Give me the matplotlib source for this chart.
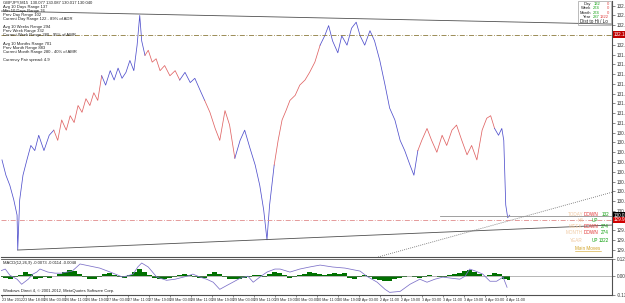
import matplotlib
matplotlib.use("Agg")
import matplotlib.pyplot as plt
import numpy as np

plt.rcParams["font.family"] = ["Liberation Sans", "DejaVu Sans"]

# ---- price data (M15 bar index, close) ----
bars = [0, 6, 12, 18, 23, 24, 27, 32, 38, 44, 50, 56, 64, 72, 79, 85, 91, 98, 104, 110,
        116, 122, 128, 134, 140, 146, 152, 158, 165, 171, 177, 183, 189, 195, 201, 206, 210, 213, 218, 223,
        229, 235, 241, 248, 256, 264, 271, 279, 287, 294, 302, 309, 317, 325, 332, 340, 347, 355, 363, 370,
        378, 386, 393, 399, 404, 408, 415, 421, 427, 433, 439, 447, 454, 462, 469, 477, 485, 492, 498, 504,
        512, 518, 526, 533, 540, 546, 553, 561, 568, 576, 584, 591, 599, 607, 614, 622, 628, 634, 640, 648,
        655, 663, 671, 678, 686, 693, 701, 709, 716, 724, 732, 739, 745, 751, 757, 762, 765, 768, 771, 774]
price = [130.66, 130.48, 130.36, 130.19, 130.01, 129.60, 130.19, 130.48, 130.66, 130.83,
         130.77, 130.95, 130.77, 130.95, 131.01, 130.89, 131.13, 131.01, 131.18, 131.10,
         131.30, 131.22, 131.38, 131.30, 131.45, 131.36, 131.65, 131.54, 131.71, 131.60,
         131.74, 131.62, 131.69, 131.83, 131.71, 132.01, 132.36, 132.06, 131.89, 131.95,
         131.81, 131.85, 131.71, 131.77, 131.65, 131.71, 131.60, 131.69, 131.57, 131.62,
         131.48, 131.36, 131.22, 131.03, 130.89, 131.24, 131.07, 130.68, 130.89, 131.01,
         130.80, 130.60, 130.36, 130.07, 129.72, 130.13, 130.60, 130.89, 131.13, 131.24,
         131.36, 131.42, 131.54, 131.60, 131.69, 131.81, 132.01, 132.12, 132.24, 132.06,
         131.92, 132.12, 132.01, 132.21, 132.28, 132.12, 132.01, 132.18, 132.06, 131.83,
         131.54, 131.27, 131.13, 130.89, 130.77, 130.60, 130.48, 130.77, 130.89, 131.03,
         130.89, 130.75, 130.95, 130.83, 131.01, 131.07, 130.89, 130.72, 130.83, 130.66,
         131.01, 131.15, 131.18, 131.03, 130.95, 131.03, 130.89, 130.13, 129.98, 130.01]
red_spans = [(79, 146), (218, 264), (309, 347), (415, 477), (634, 745)]

# trend / level lines (bar, price)
top_line = [(-3, 132.411), (930, 132.258)]
low_line = [(24, 129.60), (930, 129.894)]
dotted_line = [(668, 129.72), (930, 130.28)]
olive_level = 132.135
pink_level = 129.95
gray_level = (668, 130.00)
bid, ask_mark = 130.01, 129.955

price_ticks = [132.475 - 0.115 * k for k in range(26)]
time_labels = ["23 Mar 2012", "23 Mar 18:00", "26 Mar 03:00", "26 Mar 11:00", "26 Mar 19:00",
               "27 Mar 03:00", "27 Mar 11:00", "27 Mar 19:00", "28 Mar 03:00", "28 Mar 11:00",
               "28 Mar 19:00", "29 Mar 03:00", "29 Mar 11:00", "29 Mar 19:00", "30 Mar 03:00",
               "30 Mar 11:00", "30 Mar 19:00", "2 Apr 03:00", "2 Apr 11:00", "2 Apr 19:00",
               "3 Apr 03:00", "3 Apr 11:00", "3 Apr 19:00", "4 Apr 03:00", "4 Apr 11:00"]

# ---- MACD panel ----
hist = [-0.007, -0.015, -0.022, -0.007, 0.007, 0.030, 0.015, -0.022, -0.015, -0.007,
        -0.015, 0.0, 0.015, 0.030, 0.044, 0.037, 0.015, -0.007, -0.022, -0.022,
        -0.007, 0.015, 0.022, 0.007, -0.007, -0.015, 0.007, 0.030, 0.052, 0.030,
        0.007, -0.015, -0.022, -0.022, -0.015, -0.007, 0.007, 0.015, 0.007, -0.007,
        -0.015, -0.015, 0.015, 0.030, 0.015, -0.007, -0.022, -0.022, -0.022, -0.015,
        -0.007, 0.007, 0.007, -0.007, 0.015, 0.030, 0.022, 0.007, -0.015, -0.007,
        0.007, 0.015, 0.030, 0.022, 0.015, 0.007, 0.015, 0.022, 0.015, 0.022,
        -0.015, -0.022, -0.007, 0.007, -0.007, -0.022, -0.030, -0.037, -0.037, -0.022,
        -0.015, -0.007, 0.0, -0.007, -0.015, -0.007, 0.007, 0.0, -0.007, -0.007,
        0.007, 0.015, 0.022, 0.037, 0.044, 0.030, 0.015, 0.0, 0.007, 0.022,
        0.015, -0.022, -0.030]
HIST_STEP = 7.62
sig_bars = [-3, 5, 12, 23, 30, 40, 47, 53, 58, 70, 81, 91, 99, 107, 114, 119, 134, 149, 165, 177,
            184, 200, 207, 213, 223, 236, 251, 264, 282, 291, 302, 312, 322, 332, 343, 352, 363, 375, 383, 393,
            404, 416, 424, 439, 454, 469, 485, 504, 523, 546, 556, 572, 584, 591, 607, 622, 637, 648, 660, 672,
            686, 698, 706, 713, 722, 733, 744, 754, 764, 770]
sig_vals = [0.037, 0.052, 0.007, -0.022, -0.059, -0.022, 0.015, 0.030, 0.052, 0.030,
            0.022, 0.022, 0.030, 0.037, 0.067, 0.089, 0.074, 0.059, 0.030, 0.007,
            -0.007, 0.015, 0.067, 0.096, 0.067, -0.007, -0.030, -0.022, 0.0, 0.015,
            -0.007, -0.022, -0.044, -0.096, -0.067, -0.044, -0.015, 0.0, -0.044, -0.007,
            0.030, 0.052, 0.052, 0.030, 0.052, 0.067, 0.081, 0.067, 0.059, 0.037,
            0.0, -0.044, -0.096, -0.118, -0.111, -0.059, -0.022, -0.044, -0.022, -0.007,
            -0.015, -0.022, 0.0, 0.052, 0.037, 0.015, -0.037, -0.037, -0.007, -0.081]

W, H = 625, 303
FS = 3.3
BLUE, RED = "#5050cc", "#e06464"
fig = plt.figure(figsize=(W / 100, H / 100), dpi=100)
fig.patch.set_facecolor("white")


def fx(x):
    return x / W


def fy(y):
    return 1 - y / H


ax = fig.add_axes([fx(1), fy(257), fx(611), 257 / H - 0.002])
ax.set_xlim(-1.5, 930)
ax.set_ylim(129.518, 132.534)

# split the close line into blue / red runs without overlapping
is_red = [any(s <= b <= e for s, e in red_spans) for b in bars]
start = 0
for i in range(1, len(bars) + 1):
    if i == len(bars) or is_red[i] != is_red[start]:
        end = min(i, len(bars) - 1)
        ax.plot(bars[start:end + 1], price[start:end + 1],
                color=RED if is_red[start] else BLUE, lw=0.55)
        start = i

ax.plot(*zip(*top_line), color="#505050", lw=0.6)
ax.plot(*zip(*low_line), color="#505050", lw=0.6)
ax.axline(dotted_line[0], dotted_line[1], color="#606060", lw=0.6, ls=(0, (1, 1.5)))
ax.axhline(olive_level, color="#8c7a3c", lw=0.6, ls=(0, (6, 2, 1, 2)))
ax.axhline(pink_level, color="#e08a8a", lw=0.6, ls=(0, (6, 2, 1, 2)))
ax.plot([gray_level[0], 930], [gray_level[1]] * 2, color="#909090", lw=0.6)

ax.yaxis.tick_right()
ax.set_yticks(price_ticks)
ax.set_yticklabels([f"{v:.3f}" for v in price_ticks], fontsize=FS, color="#303030")
ax.tick_params(axis="y", length=2, width=0.4, pad=1.2, colors="#303030")
ax.set_xticks([])
for side in ["top", "left"]:
    ax.spines[side].set_visible(False)
for side in ["right", "bottom"]:
    ax.spines[side].set_color("#505050")
    ax.spines[side].set_linewidth(0.8)

# price markers on the axis
for val, fc in [(olive_level, "#c00000"), (bid, "#000000"), (ask_mark, "#d00000")]:
    ax.text(1.003, val, f"{val:.3f}", transform=ax.get_yaxis_transform(), fontsize=FS,
            color="white", va="center", ha="left", clip_on=False,
            bbox=dict(boxstyle="square,pad=0.12", fc=fc, ec="none"))

# top-left info block
info = ["GBPJPY,M15  130.077 130.087 130.017 130.040",
        "Avg 10 Days Range 137",
        "Min 10 Days Range 76",
        "Prev Day Range 102",
        "Current Day Range 122 - 89% of ADR",
        "",
        "Avg 10 Weeks Range 294",
        "Prev Week Range 332",
        "Current Week Range 280 - 95% of AWR",
        "",
        "Avg 10 Months Range 701",
        "Prev Month Range 883",
        "Current Month Range 280 - 40% of AMR",
        "",
        "Currency Pair spread: 4.9"]
for i, line in enumerate(info):
    fig.text(fx(3), fy(2.5 + 4.1 * i), line, fontsize=3.0, color="#202020", va="center")

# top-right distance box
box_rows = [("Day", "132", "0"), ("Week", "274", "0"), ("Month", "274", "0"), ("Year", "287", "1322")]
for i, (lab, g, r) in enumerate(box_rows):
    y = 4 + 4.3 * i
    fig.text(fx(591), fy(y), lab, fontsize=3.0, color="#202020", ha="right", va="center")
    fig.text(fx(600), fy(y), g, fontsize=3.0, color="#10a010", ha="right", va="center")
    fig.text(fx(609), fy(y), r, fontsize=3.0, color="#e04040", ha="right", va="center")
fig.text(fx(608), fy(21.5), "Dist to Hi / Lo", fontsize=3.3, color="#202020", ha="right", va="center")
fig.add_artist(plt.Rectangle((fx(578), fy(24.5)), fx(33), 24 / H, transform=fig.transFigure,
                             fill=False, ec="#a0a0a0", lw=0.5))

# bottom-right main moves
moves = [("TODAY", "DOWN", "132", 214), ("H4", "UP", "", 221), ("WEEK", "DOWN", "274", 227),
         ("MONTH", "DOWN", "274", 233), ("YEAR", "UP", "1322", 240)]
for lab, d, n, y in moves:
    fig.text(fx(583), fy(y), lab, fontsize=FS, color="#f0c8a0", ha="right", va="center")
    fig.text(fx(598), fy(y), d, fontsize=FS, color="#e03030" if d == "DOWN" else "#10a010",
             ha="right", va="center")
    fig.text(fx(609), fy(y), n, fontsize=FS, color="#10a010", ha="right", va="center")
fig.text(fx(588), fy(248), "Main Moves", fontsize=FS, color="#d0a020", ha="center", va="center")
fig.add_artist(plt.Line2D([fx(575), fx(601)], [fy(250.5)] * 2, color="#d0a020", lw=0.4))

# ---- indicator panel ----
ax2 = fig.add_axes([fx(1), fy(295), fx(611), 36 / H])
ax2.set_xlim(-1.5, 930)
ax2.set_ylim(-0.1372, 0.1253)
hb = np.arange(len(hist)) * HIST_STEP - 3
ax2.fill_between(hb, 0, hist, color="#007000", lw=0, step="mid")
ax2.axhline(0, color="#808080", lw=0.4)
ax2.plot(sig_bars, sig_vals, color="#7c70c8", lw=0.55)
ax2.yaxis.tick_right()
ax2.set_yticks([0.1253, 0.0, -0.1372])
ax2.set_yticklabels(["0.1253", "0.00", "-0.1372"], fontsize=FS, color="#303030")
ax2.tick_params(axis="y", length=2, width=0.4, pad=1.2, colors="#303030")
tick_pos = [32 * k for k in range(len(time_labels))]
ax2.set_xticks(tick_pos)
ax2.set_xticklabels(time_labels, fontsize=2.7, color="#303030", ha="left")
ax2.tick_params(axis="x", length=1.5, width=0.4, pad=1, colors="#303030")
for side in ["top", "left"]:
    ax2.spines[side].set_visible(False)
for side in ["right", "bottom"]:
    ax2.spines[side].set_color("#505050")
    ax2.spines[side].set_linewidth(0.8)
ax2.spines["top"].set_visible(True)
ax2.spines["top"].set_color("#505050")
ax2.spines["top"].set_linewidth(0.6)
ax2.text(0.004, 0.88, "MACD(12,26,9) -0.0073 -0.0114 -0.0048", transform=ax2.transAxes,
         fontsize=3.0, color="#202020", va="center")
ax2.text(0.004, 0.1, "Windows Direct 4, \u00a9 2001-2012, MetaQuotes Software Corp.",
         transform=ax2.transAxes, fontsize=3.0, color="#202020", va="center")

fig.savefig("out.png", dpi=100, facecolor="white")
